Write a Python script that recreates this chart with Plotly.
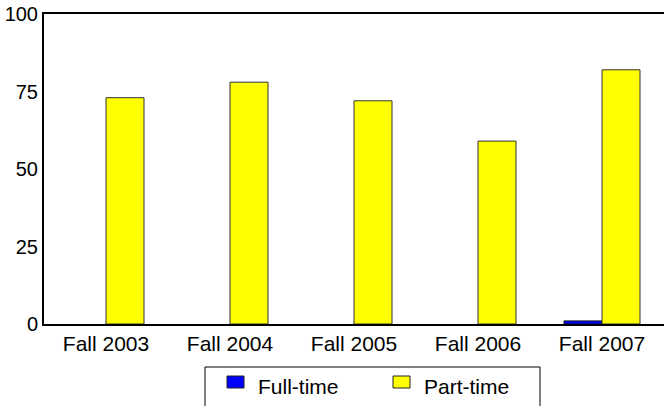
import plotly.graph_objects as go

# Enrollment by term
terms = ['Fall 2003', 'Fall 2004', 'Fall 2005', 'Fall 2006', 'Fall 2007']
full_time = [0, 0, 0, 0, 1]
part_time = [73, 78, 72, 59, 82]
y_ticks = [0, 25, 50, 75, 100]

font_name = 'Liberation Sans, Arial, sans-serif'
blue = '#0000FF'
yellow = '#FFFF00'

# plot area in pixels (used for the hand-drawn legend)
W, H = 665, 406
L, R, T, B = 44, 1, 14, 82
pw, ph = W - L - R, H - T - B


def px_x(x):
    return (x - L) / pw


def px_y(y):
    return (H - B - y) / ph


fig = go.Figure()

fig.add_trace(go.Bar(
    x=terms,
    y=full_time,
    name='Full-time',
    marker=dict(color=blue,
                line=dict(color='#1a1a1a', width=[1 if v else 0 for v in full_time]))
))

fig.add_trace(go.Bar(
    x=terms,
    y=part_time,
    name='Part-time',
    marker=dict(color=yellow, line=dict(color='#333333', width=1))
))

# legend box, drawn by hand so it can run off the bottom like the original
shapes = [dict(type='rect', xref='paper', yref='paper',
               x0=px_x(205), x1=px_x(540), y0=px_y(367), y1=px_y(430),
               line=dict(color='black', width=1), fillcolor='white', layer='above')]
annotations = []
for name, color, mx in [('Full-time', blue, 227), ('Part-time', yellow, 393)]:
    shapes.append(dict(type='rect', xref='paper', yref='paper',
                       x0=px_x(mx), x1=px_x(mx + 17), y0=px_y(376), y1=px_y(388),
                       line=dict(color='#222222', width=1), fillcolor=color, layer='above'))
    annotations.append(dict(text=name, xref='paper', yref='paper',
                            x=px_x(mx + 29), y=px_y(386), xanchor='left', yanchor='middle',
                            showarrow=False, font=dict(size=21, color='black')))

fig.update_layout(
    width=W,
    height=H,
    margin=dict(l=L, r=R, t=T, b=B, autoexpand=False),
    paper_bgcolor='white',
    plot_bgcolor='white',
    font=dict(family=font_name, size=19, color='black'),
    barmode='group',
    bargap=0.387,
    bargroupgap=0,
    showlegend=False,
    shapes=shapes,
    annotations=annotations,
    xaxis=dict(
        showline=True,
        linecolor='black',
        linewidth=2,
        mirror=True,
        ticks='',
        showgrid=False,
        tickfont=dict(size=21),
    ),
    yaxis=dict(
        range=[0, 100],
        tickvals=y_ticks,
        showline=True,
        linecolor='black',
        linewidth=2,
        ticks='',
        showgrid=False,
        zeroline=False,
        tickfont=dict(size=20),
    ),
)

fig.write_html("out.html", config={'displayModeBar': False},
               post_script="document.body.style.margin='0';")
